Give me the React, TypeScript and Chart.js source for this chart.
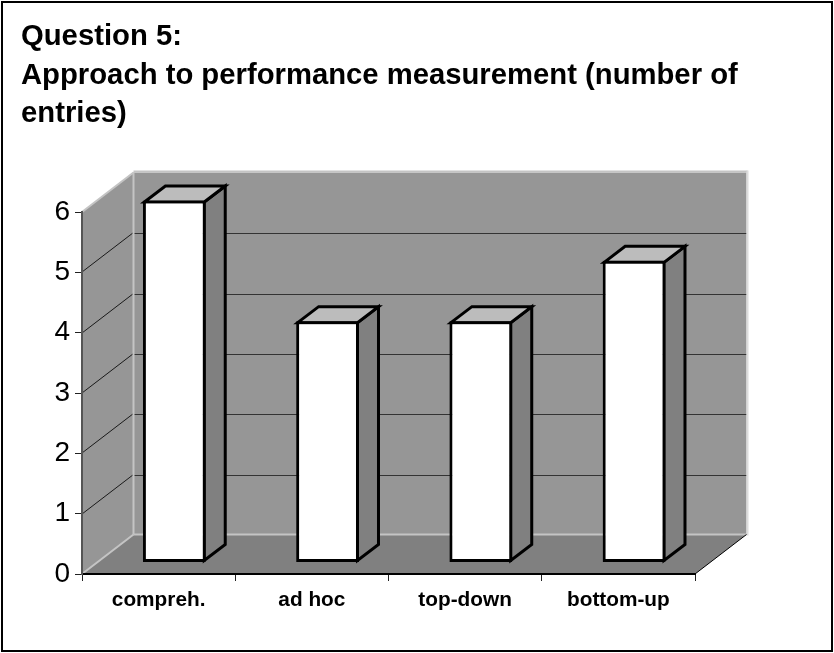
import React, { useEffect, useRef } from "react";
import { Chart, registerables } from "chart.js";

Chart.register(...registerables);

const categories = ["compreh.", "ad hoc", "top-down", "bottom-up"];
const entries = [6, 4, 4, 5];
const titleLines = ["Question 5:", "Approach to performance measurement (number of", "entries)"];

const FONT = '"Liberation Sans", Arial, sans-serif';
const DEPTH_X = 51.5;
const DEPTH_Y = 39.5;
const BAR_SHIFT_X = 15.7;
const BAR_SHIFT_Y = -11.5;
const SIDE_X = 21;
const SIDE_Y = -16;

function poly(ctx: CanvasRenderingContext2D, pts: number[][], fill?: string, stroke?: string, width = 1) {
  ctx.beginPath();
  pts.forEach(([x, y], i) => (i ? ctx.lineTo(x, y) : ctx.moveTo(x, y)));
  ctx.closePath();
  if (fill) {
    ctx.fillStyle = fill;
    ctx.fill();
  }
  if (stroke) {
    ctx.strokeStyle = stroke;
    ctx.lineWidth = width;
    ctx.stroke();
  }
}

function segment(ctx: CanvasRenderingContext2D, x1: number, y1: number, x2: number, y2: number, color: string, width: number) {
  ctx.beginPath();
  ctx.moveTo(x1, y1);
  ctx.lineTo(x2, y2);
  ctx.strokeStyle = color;
  ctx.lineWidth = width;
  ctx.stroke();
}

// Back wall, side wall and floor of the 3D box, with gridlines taken from the value scale.
const boxPlugin = {
  id: "box3d",
  beforeDraw(chart: any) {
    const { ctx, scales } = chart;
    const xs = scales.x;
    const ys = scales.y;
    const l = xs.left;
    const r = xs.right;
    const b = ys.getPixelForValue(0);
    const t = ys.getPixelForValue(6);
    ctx.save();
    poly(ctx, [[l + DEPTH_X, t - DEPTH_Y], [r + DEPTH_X, t - DEPTH_Y], [r + DEPTH_X, b - DEPTH_Y], [l + DEPTH_X, b - DEPTH_Y]], "#969696");
    poly(ctx, [[l, t], [l + DEPTH_X, t - DEPTH_Y], [l + DEPTH_X, b - DEPTH_Y], [l, b]], "#969696");
    poly(ctx, [[l, b], [l + DEPTH_X, b - DEPTH_Y], [r + DEPTH_X, b - DEPTH_Y], [r, b]], "#808080");

    for (let v = 1; v <= 5; v++) {
      const y = Math.round(ys.getPixelForValue(v));
      segment(ctx, l, y, l + DEPTH_X, y - DEPTH_Y, "#1a1a1a", 1);
      const by = Math.round(y - DEPTH_Y) + 0.5;
      segment(ctx, l + DEPTH_X, by, r + DEPTH_X, by, "#333333", 1);
    }

    const light = "#c4c4c4";
    segment(ctx, l, t, l + DEPTH_X, t - DEPTH_Y, light, 2);
    segment(ctx, l, b, l + DEPTH_X, b - DEPTH_Y, light, 2);
    segment(ctx, l + DEPTH_X, t - DEPTH_Y - 1, r + DEPTH_X + 1, t - DEPTH_Y - 1, light, 2);
    segment(ctx, l + DEPTH_X, t - DEPTH_Y, l + DEPTH_X, b - DEPTH_Y, light, 2);
    segment(ctx, l + DEPTH_X, b - DEPTH_Y, r + DEPTH_X, b - DEPTH_Y, light, 2);
    segment(ctx, r + DEPTH_X + 1, t - DEPTH_Y - 2, r + DEPTH_X + 1, b - DEPTH_Y + 1, "#dcdcdc", 2);
    segment(ctx, r, b, r + DEPTH_X, b - DEPTH_Y, "#000000", 1);
    ctx.restore();
  },
  // Side and top faces are drawn first, then the bars themselves are moved into the box depth.
  beforeDatasetsDraw(chart: any) {
    const { ctx } = chart;
    ctx.save();
    ctx.translate(BAR_SHIFT_X, BAR_SHIFT_Y);
    ctx.lineJoin = "miter";
    chart.getDatasetMeta(0).data.forEach((bar: any) => {
      const right = bar.x + bar.width / 2 - 1.5;
      const left = bar.x - bar.width / 2 + 1.5;
      const top = bar.y + 1.5;
      const bottom = bar.base - 1.5;
      poly(ctx, [[right, top], [right + SIDE_X, top + SIDE_Y], [right + SIDE_X, bottom + SIDE_Y], [right, bottom]], "#808080", "#000000", 3);
      poly(ctx, [[left, top], [left + SIDE_X, top + SIDE_Y], [right + SIDE_X, top + SIDE_Y], [right, top]], "#bcbcbc", "#000000", 3);
    });
  },
  afterDatasetsDraw(chart: any) {
    chart.ctx.restore();
  },
};

export default function App() {
  const ref = useRef<HTMLCanvasElement>(null);

  useEffect(() => {
    const chart = new Chart(ref.current!, {
      type: "bar",
      data: {
        labels: categories,
        datasets: [
          {
            data: entries,
            backgroundColor: "#ffffff",
            borderColor: "#000000",
            borderWidth: 3,
            borderSkipped: false,
            barPercentage: 0.41,
            categoryPercentage: 1,
          },
        ],
      },
      options: {
        animation: false,
        responsive: false,
        layout: { padding: { left: 21, right: 0, top: 18, bottom: 0 } },
        plugins: {
          legend: { display: false },
          tooltip: { enabled: false },
          title: {
            display: true,
            text: titleLines,
            align: "start",
            color: "#000000",
            font: { family: FONT, size: 29.25, weight: "bold", lineHeight: 38.5 / 29.25 },
            padding: { top: 0, bottom: 78.5 },
          },
        },
        scales: {
          x: {
            afterFit: (scale: any) => {
              scale.height = 79;
            },
            grid: { drawOnChartArea: false, drawTicks: true, tickLength: 7, color: "#222222", offset: true },
            border: { color: "#000000", width: 2 },
            ticks: { color: "#000000", maxRotation: 0, padding: 7, font: { family: FONT, size: 20.8, weight: "bold" } },
          },
          y: {
            min: 0,
            max: 6,
            afterFit: (scale: any) => {
              scale.width = 61;
            },
            grid: { drawOnChartArea: false, drawTicks: true, tickLength: 7, color: "#222222" },
            border: { color: "#555555", width: 2 },
            ticks: { stepSize: 1, color: "#000000", padding: 5, font: { family: FONT, size: 28 } },
          },
          // Empty axis that reserves the room the box depth extends into on the right.
          depthSpace: {
            type: "linear",
            position: "right",
            afterFit: (scale: any) => {
              scale.width = 139;
            },
            grid: { display: false },
            border: { display: false },
            ticks: { display: false },
          },
        },
      },
      plugins: [boxPlugin],
    } as any);
    return () => chart.destroy();
  }, []);

  return (
    <div style={{ position: "fixed", left: 0, top: 0, width: 834, height: 653, background: "#ffffff" }}>
      <canvas ref={ref} width={834} height={653} style={{ position: "absolute", left: 0, top: 0, display: "block" }} />
      <div style={{ position: "absolute", left: 1, top: 1, width: 832, height: 651, boxSizing: "border-box", border: "2px solid #000000", pointerEvents: "none" }} />
    </div>
  );
}
